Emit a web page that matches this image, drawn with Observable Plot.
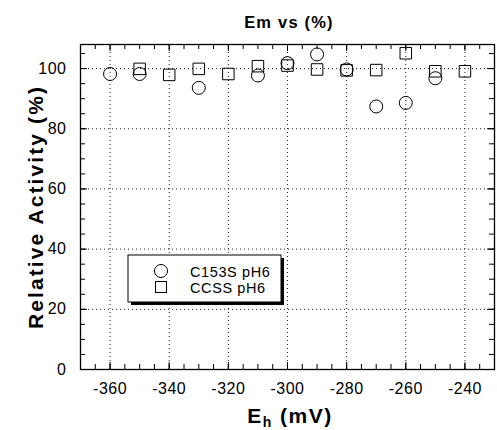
<!DOCTYPE html>
<html>
<head>
<meta charset="utf-8">
<script src="https://cdn.jsdelivr.net/npm/d3@7"></script>
<script src="https://cdn.jsdelivr.net/npm/@observablehq/plot@0.6"></script>
<style>
  html, body { margin: 0; padding: 0; background: white; }
  #wrap { position: relative; width: 497px; height: 430px; overflow: hidden; }
  #wrap > svg.overlay { position: absolute; left: 0; top: 0; pointer-events: none; }
</style>
</head>
<body>
<div id="wrap"></div>
<script>
// ---- data ----
const c153sE   = [-360, -350, -330, -310, -300, -290, -280, -270, -260, -250];
const c153sVal = [98.2, 98.2, 93.6, 97.7, 101.8, 104.7, 99.7, 87.4, 88.6, 96.8];
const ccssE    = [-350, -340, -330, -320, -310, -300, -290, -280, -270, -260, -250, -240];
const ccssVal  = [99.9, 97.9, 99.9, 98.2, 100.8, 101.0, 99.7, 99.4, 99.5, 105.1, 99.1, 99.1];
const xTicks = [-360, -340, -320, -300, -280, -260, -240];
const yTicks = [0, 20, 40, 60, 80, 100];
const xDomain = [-370, -230];
const yDomain = [0, 108];
const titleText = "Em vs (%)";
const yLabelText = "Relative Activity (%)";
const seriesNames = ["C153S pH6", "CCSS pH6"];

const c153s = c153sE.map((e, i) => ({e, v: c153sVal[i]}));
const ccss = ccssE.map((e, i) => ({e, v: ccssVal[i]}));
const xMinor = d3.range(xDomain[0], xDomain[1] + 0.1, 5);
const yMinor = d3.range(yDomain[0], yDomain[1], 5);
const xGrid = xTicks;
const yGrid = yTicks.filter(d => d > 0);

const W = 497, H = 430, mL = 80, mR = 3, mT = 44, mB = 61;
const iW = W - mL - mR, iH = H - mT - mB;

const chart = Plot.plot({
  width: W, height: H,
  marginLeft: mL, marginRight: mR, marginTop: mT, marginBottom: mB,
  style: {fontFamily: "'Liberation Sans', Arial, sans-serif", fontSize: "16px", color: "black", background: "white", letterSpacing: "0.5px"},
  x: {domain: xDomain, ticks: xTicks, tickSize: 0, tickPadding: 13, tickFormat: d => String(d), label: null},
  y: {domain: yDomain, ticks: yTicks, tickSize: 0, tickPadding: 14, tickFormat: d => String(d), label: null},
  marks: [
    Plot.ruleX(xGrid, {x: d => d, stroke: "#222", strokeWidth: 1, strokeDasharray: "1,3"}),
    Plot.ruleY(yGrid, {y: d => d, stroke: "#222", strokeWidth: 1, strokeDasharray: "1,3"}),
    // minor ticks (inward, all four sides)
    Plot.tickX(xMinor, {x: d => d, insetTop: iH - 5, stroke: "black"}),
    Plot.tickX(xMinor, {x: d => d, insetBottom: iH - 5, stroke: "black"}),
    Plot.tickY(yMinor, {y: d => d, insetRight: iW - 5, stroke: "black"}),
    Plot.tickY(yMinor, {y: d => d, insetLeft: iW - 5, stroke: "black"}),
    // major ticks
    Plot.tickX(xTicks, {x: d => d, insetTop: iH - 7, stroke: "black"}),
    Plot.tickX(xTicks, {x: d => d, insetBottom: iH - 7, stroke: "black"}),
    Plot.tickY(yTicks, {y: d => d, insetRight: iW - 7, stroke: "black"}),
    Plot.tickY(yTicks, {y: d => d, insetLeft: iW - 7, stroke: "black"}),
    Plot.frame({stroke: "black", strokeWidth: 1.3}),
    Plot.dot(c153s, {x: "e", y: "v", symbol: "circle", r: 6.5, fill: "none", stroke: "black", strokeWidth: 1}),
    Plot.dot(ccss, {x: "e", y: "v", symbol: "square", r: 6.5, fill: "none", stroke: "black", strokeWidth: 1})
  ]
});

const wrap = document.getElementById("wrap");
wrap.appendChild(chart);

// overlay: title, axis labels, legend
const ns = "http://www.w3.org/2000/svg";
const ov = d3.select(wrap).append("svg")
  .attr("class", "overlay").attr("xmlns", ns)
  .attr("width", W).attr("height", H)
  .style("font-family", "'Liberation Sans', Arial, sans-serif");

ov.append("text").attr("x", 289).attr("y", 27.5).attr("text-anchor", "middle")
  .attr("font-weight", "bold").attr("font-size", 16.5).attr("letter-spacing", "1.2px")
  .text(titleText);

const xl = ov.append("text").attr("x", 290).attr("y", 423).attr("text-anchor", "middle")
  .attr("font-weight", "bold").attr("font-size", 21).attr("letter-spacing", "1.5px");
xl.append("tspan").text("E");
xl.append("tspan").attr("font-size", 14).attr("dy", 4).text("h");
xl.append("tspan").attr("dy", -4).text(" (mV)");

ov.append("text").attr("transform", "translate(43,207) rotate(-90)").attr("text-anchor", "middle")
  .attr("font-weight", "bold").attr("font-size", 21).attr("letter-spacing", "2.1px")
  .text(yLabelText);

// legend
const lg = ov.append("g");
lg.append("rect").attr("x", 131).attr("y", 258).attr("width", 153).attr("height", 47).attr("fill", "black");
lg.append("rect").attr("x", 128).attr("y", 255).attr("width", 153).attr("height", 47)
  .attr("fill", "white").attr("stroke", "black").attr("stroke-width", 1);
lg.append("circle").attr("cx", 161).attr("cy", 271).attr("r", 6.5).attr("fill", "none").attr("stroke", "black");
lg.append("rect").attr("x", 155.5).attr("y", 281.5).attr("width", 11).attr("height", 11).attr("fill", "none").attr("stroke", "black");
lg.append("text").attr("x", 190).attr("y", 277).attr("font-size", 14.5).attr("letter-spacing", "0.6px").text(seriesNames[0]);
lg.append("text").attr("x", 190).attr("y", 292.5).attr("font-size", 14.5).attr("letter-spacing", "0.6px").text(seriesNames[1]);
</script>
</body>
</html>
